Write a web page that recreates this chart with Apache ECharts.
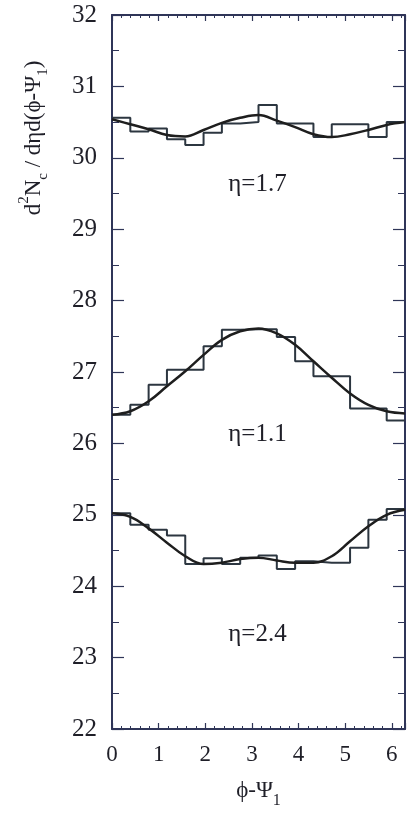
<!DOCTYPE html>
<html>
<head>
<meta charset="utf-8">
<script src="https://cdn.jsdelivr.net/npm/echarts@6/dist/echarts.min.js"></script>
<style>html,body{margin:0;padding:0;background:#fff;}#c{width:413px;height:814px;}</style>
</head>
<body>
<div id="c"></div>
<script>
// 16 bins over [0, 2π]
const binEdges = Array.from({length: 17}, (_, i) => i * Math.PI / 8);
const curveX = Array.from({length: 17}, (_, i) => i * Math.PI / 8);

const xTickLabels = ['0','1','2','3','4','5','6'];
const yTickLabels = ['22','23','24','25','26','27','28','29','30','31','32'];

// histogram values per bin
const hist17 = [30.56, 30.37, 30.41, 30.26, 30.18, 30.35, 30.48, 30.50, 30.74, 30.48, 30.48, 30.29, 30.47, 30.47, 30.29, 30.50];
const hist11 = [26.40, 26.54, 26.82, 27.03, 27.03, 27.36, 27.59, 27.60, 27.60, 27.49, 27.15, 26.94, 26.94, 26.49, 26.49, 26.32];
const hist24 = [25.02, 24.86, 24.79, 24.71, 24.31, 24.39, 24.31, 24.40, 24.43, 24.24, 24.35, 24.33, 24.33, 24.54, 24.93, 25.08];

// fitted curves read at curveX
const fit17 = [30.54, 30.47, 30.40, 30.32, 30.30, 30.39, 30.49, 30.56, 30.60, 30.52, 30.43, 30.33, 30.29, 30.33, 30.39, 30.46, 30.50];
const fit11 = [26.40, 26.45, 26.59, 26.80, 27.01, 27.24, 27.45, 27.57, 27.61, 27.54, 27.38, 27.15, 26.92, 26.70, 26.54, 26.45, 26.42];
const fit24 = [25.02, 24.97, 24.81, 24.61, 24.42, 24.31, 24.33, 24.38, 24.40, 24.36, 24.33, 24.33, 24.42, 24.63, 24.84, 25.00, 25.07];

const labels = ['η=1.7', 'η=1.1', 'η=2.4'];
const labelAnchors = [[3.12, 29.62], [3.12, 26.13], [3.12, 23.33]];

const FONT = 'Liberation Serif';
const AX = '#2f3558';
const HC = '#2c3640';
const CC = '#1e1e1e';
const TC = '#1f1f28';

function histData(v) {
  const d = v.map((y, i) => [binEdges[i], y]);
  d.push([binEdges[16], v[v.length - 1]]);
  return d;
}
function curveData(v) { return v.map((y, i) => [curveX[i], y]); }

const chart = echarts.init(document.getElementById('c'), null, {renderer: 'canvas'});

const xBase = {
  type: 'value', min: 0, max: 2 * Math.PI, interval: 1,
  axisLine: {show: true, onZero: false, lineStyle: {color: AX, width: 2}},
  axisTick: {show: true, inside: true, length: 6, lineStyle: {color: AX, width: 1.2}},
  minorTick: {show: true, splitNumber: 5, length: 3, lineStyle: {color: AX, width: 1}},
  splitLine: {show: false}
};
const yBase = {
  type: 'value', min: 22, max: 32, interval: 1,
  axisLine: {show: true, onZero: false, lineStyle: {color: AX, width: 2}},
  axisTick: {show: true, inside: true, length: 12, lineStyle: {color: AX, width: 1.2}},
  minorTick: {show: true, splitNumber: 2, length: 7, lineStyle: {color: AX, width: 1}},
  splitLine: {show: false}
};

chart.setOption({
  animation: false,
  backgroundColor: '#fff',
  grid: {left: 112, right: 8, top: 15, bottom: 83},
  xAxis: [
    Object.assign({}, xBase, {
      position: 'bottom',
      axisLabel: {show: true, margin: 14, color: TC, fontFamily: FONT, fontSize: 23,
        formatter: v => { const i = Math.round(v); return Math.abs(v - i) < 1e-6 && xTickLabels[i] !== undefined ? xTickLabels[i] : ''; }},
      name: '{b|ϕ-Ψ}{s|1}', nameLocation: 'middle', nameGap: 50,
      nameTextStyle: {rich: {
        b: {fontFamily: FONT, fontSize: 23, color: TC, lineHeight: 30, verticalAlign: 'top'},
        s: {fontFamily: FONT, fontSize: 16, color: TC, lineHeight: 30, verticalAlign: 'bottom', padding: [8, 0, 0, 0]}
      }}
    }),
    Object.assign({}, xBase, {position: 'top', axisLabel: {show: false}})
  ],
  yAxis: [
    Object.assign({}, yBase, {
      position: 'left',
      axisLabel: {show: true, margin: 15, color: TC, fontFamily: FONT, fontSize: 25,
        formatter: v => yTickLabels[Math.round(v) - 22] || ''}
    }),
    Object.assign({}, yBase, {position: 'right', axisLabel: {show: false}})
  ],
  series: [
    {type: 'line', step: 'end', data: histData(hist17), showSymbol: false, lineStyle: {color: HC, width: 2}, z: 2},
    {type: 'line', step: 'end', data: histData(hist11), showSymbol: false, lineStyle: {color: HC, width: 2}, z: 2},
    {type: 'line', step: 'end', data: histData(hist24), showSymbol: false, lineStyle: {color: HC, width: 2}, z: 2},
    {type: 'line', smooth: 0.4, data: curveData(fit17), showSymbol: false, lineStyle: {color: CC, width: 2.5}, z: 3},
    {type: 'line', smooth: 0.4, data: curveData(fit11), showSymbol: false, lineStyle: {color: CC, width: 2.5}, z: 3},
    {type: 'line', smooth: 0.4, data: curveData(fit24), showSymbol: false, lineStyle: {color: CC, width: 2.5}, z: 3}
  ]
});

const g = labels.map((t, i) => {
  const p = chart.convertToPixel({gridIndex: 0}, labelAnchors[i]);
  return {type: 'text', x: p[0], y: p[1], silent: true,
    style: {text: '{b|' + t + '}', align: 'center', verticalAlign: 'middle',
      rich: {b: {fontFamily: FONT, fontSize: 25, fill: TC, lineHeight: 30}}}};
});
g.push({type: 'text', x: 34, y: 138, rotation: Math.PI / 2, silent: true,
  style: {
    text: '{b|d}{p|2}{b|N}{s|c}{b| / dηd(ϕ-Ψ}{s|1}{b|)}',
    align: 'center', verticalAlign: 'middle',
    rich: {
      b: {fontFamily: FONT, fontSize: 23, fill: TC, lineHeight: 34, verticalAlign: 'middle'},
      p: {fontFamily: FONT, fontSize: 15, fill: TC, lineHeight: 34, verticalAlign: 'top', padding: [0, 0, 10, 0]},
      s: {fontFamily: FONT, fontSize: 15, fill: TC, lineHeight: 34, verticalAlign: 'bottom', padding: [10, 0, 0, 0]}
    }
  }});
chart.setOption({graphic: g});
</script>
</body>
</html>
